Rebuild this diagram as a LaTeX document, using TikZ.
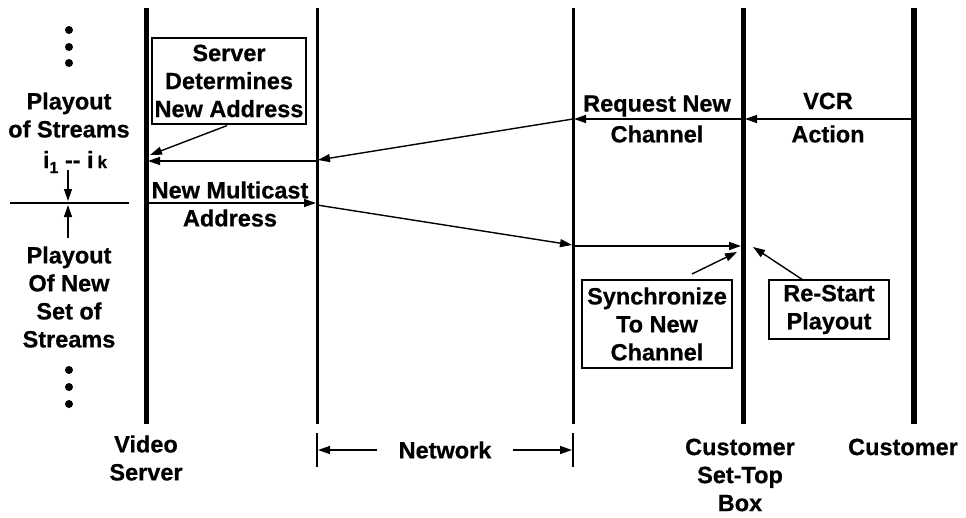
\documentclass[tikz,border=0pt]{standalone}
\usepackage{fontspec}
\setmainfont[BoldFeatures={FakeBold=0.6}]{Liberation Sans}
\usetikzlibrary{arrows.meta}
\begin{document}
\begin{tikzpicture}[x=1pt,y=-1pt,
  font=\bfseries\fontsize{23.5}{28}\selectfont,
  lbl/.style={align=center,inner sep=0pt},
  lifeline/.style={line width=#1},
  msg/.style={line width=1.4,-{Triangle[length=12,width=8]}},
  thin/.style={line width=1.2},
  box/.style={draw,line width=1.2,align=center,inner sep=0pt},
  dotn/.style={circle,fill=black,inner sep=0pt,minimum size=8}]
\useasboundingbox (0,0) rectangle (966,517);
% lifelines
\coordinate (vsT) at (146,8);  \coordinate (vsB) at (146,424);
\coordinate (nlT) at (317,8);  \coordinate (nlB) at (317,424);
\coordinate (nrT) at (573,8);  \coordinate (nrB) at (573,424);
\coordinate (stT) at (743,8);  \coordinate (stB) at (743,424);
\coordinate (cuT) at (914,8);  \coordinate (cuB) at (914,424);
\draw[lifeline=5] (vsT) -- (vsB);
\draw[lifeline=3] (nlT) -- (nlB);
\draw[lifeline=3] (nrT) -- (nrB);
\draw[lifeline=5] (stT) -- (stB);
\draw[lifeline=6] (cuT) -- (cuB);
% boxes
\node[box,minimum width=154,minimum height=86] (sbox) at (229,81) {Server\\Determines\\New Address};
\node[box,minimum width=150,minimum height=88] (ybox) at (657,324) {Synchronize\\To New\\Channel};
\node[box,minimum width=120,minimum height=59] (rbox) at (829,309.5) {Re-Start\\Playout};
% labels
\node[lbl] (vcr) at (828,101) {VCR};
\node[lbl] (act) at (828,134) {Action};
\node[lbl] (req) at (657,106) {Request New};
\node[lbl] (chan) at (657,134) {Channel};
\node[lbl] (nma) at (230,204) {New Multicast\\Address};
\node[lbl] (pA) at (69,115) {Playout\\of Streams};
\node[lbl] (ik) at (75,162) {i\raisebox{-5pt}{\fontsize{16}{16}\selectfont 1} -{}- i\,{\fontsize{17}{17}\selectfont k}};
\node[lbl] (pB) at (69,297) {Playout\\Of New\\Set of\\Streams};
\node[lbl] (vsl) at (146,458) {Video\\Server};
\node[lbl] (net) at (445,450) {Network};
\node[lbl] (stl) at (740,475) {Customer\\Set-Top\\Box};
\node[lbl] (cul) at (903,447) {Customer};
% dots
\node[dotn] (d1) at (69,30) {};
\node[dotn] (d2) at (69,47) {};
\node[dotn] (d3) at (69,63) {};
\node[dotn] (d4) at (69,370) {};
\node[dotn] (d5) at (69,387) {};
\node[dotn] (d6) at (69,404) {};
% message coordinates
\coordinate (m1a) at (914,119); \coordinate (m1b) at (745,119);
\coordinate (m2a) at (743,119); \coordinate (m2b) at (574,119);
\coordinate (m3a) at (573,119); \coordinate (m3b) at (318,160);
\coordinate (m4a) at (317,161); \coordinate (m4b) at (148,161);
\coordinate (m5b) at (150,155);
\coordinate (m6a) at (148,203); \coordinate (m6b) at (316,203);
\coordinate (m7a) at (317,205); \coordinate (m7b) at (572,245);
\coordinate (m8a) at (573,246); \coordinate (m8b) at (741,246);
\coordinate (m9a) at (692,274); \coordinate (m9b) at (737,252);
\coordinate (m10a) at (803,280); \coordinate (m10b) at (753,247);
\draw[msg] (m1a) -- (m1b);
\draw[msg] (m2a) -- (m2b);
\draw[msg] (m3a) -- (m3b);
\draw[msg] (m4a) -- (m4b);
\draw[msg] (sbox.south) ++(-2,1) -- (m5b);
\draw[msg] (m6a) -- (m6b);
\draw[msg] (m7a) -- (m7b);
\draw[msg] (m8a) -- (m8b);
\draw[msg] (m9a) -- (m9b);
\draw[msg] (m10a) -- (m10b);
% playout divider
\coordinate (dv1) at (10,203); \coordinate (dv2) at (129,203);
\draw[thin] (dv1) -- (dv2);
\coordinate (pa1) at (68,170); \coordinate (pa2) at (68,201);
\coordinate (pb1) at (68,238); \coordinate (pb2) at (68,205);
\draw[msg] (pa1) -- (pa2);
\draw[msg] (pb1) -- (pb2);
% network span
\coordinate (t1a) at (317,433); \coordinate (t1b) at (317,467);
\coordinate (t2a) at (573,433); \coordinate (t2b) at (573,467);
\draw[thin] (t1a) -- (t1b);
\draw[thin] (t2a) -- (t2b);
\coordinate (n1a) at (377,450); \coordinate (n1b) at (318,450);
\coordinate (n2a) at (513,450); \coordinate (n2b) at (572,450);
\draw[msg] (n1a) -- (n1b);
\draw[msg] (n2a) -- (n2b);
\end{tikzpicture}
\end{document}
